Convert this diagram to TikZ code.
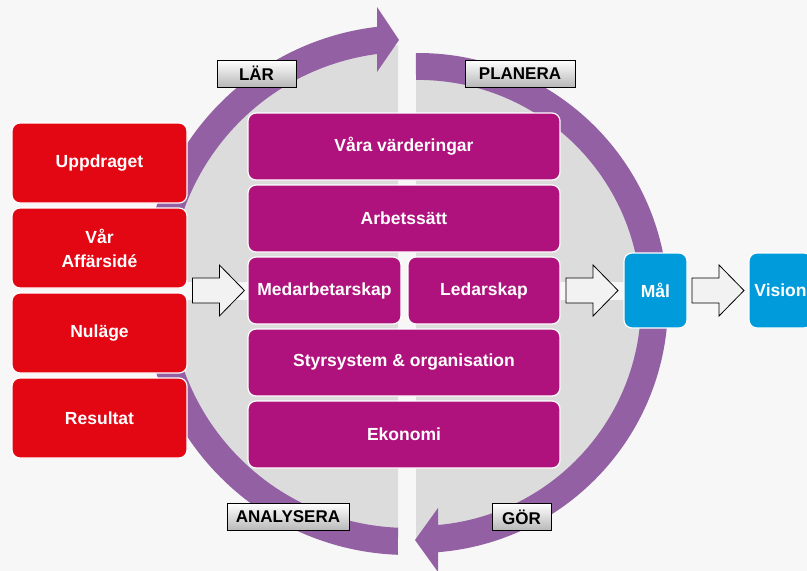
\documentclass[tikz,border=0pt]{standalone}
\usepackage{fontspec}
\setmainfont{Liberation Sans}
\usetikzlibrary{positioning, calc}

\definecolor{bgGray}{RGB}{247,247,247}
\definecolor{discGray}{RGB}{220,220,220}
\definecolor{ringPurple}{RGB}{147,96,164}
\definecolor{boxRed}{RGB}{227,6,19}
\definecolor{boxMagenta}{RGB}{176,18,125}
\definecolor{boxBlue}{RGB}{0,155,218}

\tikzset{
    box/.style={draw=white, line width=1.2pt, rounded corners=8pt, inner sep=0pt,
        text=white, align=center, font=\fontsize{17.5}{24}\selectfont\bfseries},
    redbox/.style={box, fill=boxRed, minimum width=175pt, minimum height=80pt},
    stackbox/.style={box, fill=boxMagenta, minimum height=67pt},
    bluebox/.style={box, fill=boxBlue, minimum width=63pt, minimum height=75pt},
    phase/.style={draw=black, line width=0.8pt, top color=white, bottom color=black!28,
        text=black, inner sep=0pt, minimum height=27pt, font=\fontsize{17}{20}\selectfont\bfseries},
    ring/.style={fill=ringPurple},
    blockarrow/.style={draw=black, line width=0.8pt, fill=white!95!black}
}

% block arrow around a centre point
\newcommand{\bigarrow}[1]{%
    \draw[blockarrow] (#1) ++(-26,-12.5) -- ++(27,0) -- ++(0,-13) -- ++(25,25.5)
        -- ++(-25,25.5) -- ++(0,-13) -- ++(-27,0) -- cycle;
}

\begin{document}
\begin{tikzpicture}[x=1pt, y=-1pt]
    \useasboundingbox (0,0) rectangle (807,571);
    \fill[bgGray] (0,0) rectangle (807,571);

    % disc halves
    \begin{scope}
        \clip (0,0) rectangle (398,571);
        \fill[discGray] (408,290) circle[radius=245];
    \end{scope}
    \begin{scope}
        \clip (416,0) rectangle (807,571);
        \fill[discGray] (418,303) circle[radius=236];
    \end{scope}

    % left arc, up to the top
    \fill[ring] (408,290) ++(92.2:265) arc[start angle=92.2, end angle=263.3, radius=265]
        -- (377,7) -- (399,40) -- (377,72) -- (377,54)
        arc[start angle=262.5, end angle=92.4, radius=238] -- cycle;

    % right arc, down to the bottom
    \fill[ring] (418,303) ++(269.5:250) arc[start angle=269.5, end angle=445.4, radius=250]
        -- (438,572) -- (415,540) -- (438,508) -- (438,525)
        arc[start angle=444.85, end angle=269.5, radius=223] -- cycle;

    % horizontal gap
    \fill[bgGray] (130,282) rectangle (670,300);

    % phases
    \node[phase, minimum width=79pt]  (lar)  at (256.5,73.5) {LÄR};
    \node[phase, minimum width=110pt] (plan) at (520,73.5)   {PLANERA};
    \node[phase, minimum width=122pt] (anal) at (288,517)    {ANALYSERA};
    \node[phase, minimum width=59pt]  (gor)  at (521.5,517)  {GÖR};

    % left column
    \foreach \name/\y/\txt in {upp/163/Uppdraget, aff/248/Vår\\Affärsidé,
                               nul/333/Nuläge, res/418/Resultat}
    {
        \node[redbox] (\name) at (99.5,\y) {\txt};
    }

    % stack
    \foreach \name/\y/\txt in {varden/146.5/Våra värderingar, arbets/218.5/Arbetssätt,
                               styr/362.5/Styrsystem \& organisation, ekon/434.5/Ekonomi}
    {
        \node[stackbox, minimum width=312pt] (\name) at (404,\y) {\txt};
    }
    \node[stackbox, minimum width=153pt] (medarb) at (324.5,290.5) {Medarbetarskap};
    \node[stackbox, minimum width=152pt] (ledar)  at (484,290.5)   {Ledarskap};

    % goals
    \node[bluebox] (mal)    at (655.5,290.5) {Mål};
    \node[bluebox] (vision) at (780.5,290.5) {Vision};

    % arrows between
    \coordinate (pil1) at ($(medarb.west)+(-29,0)$);
    \coordinate (pil2) at ($(ledar.east)!0.5!(mal.west)$);
    \coordinate (pil3) at ($(mal.east)!0.5!(vision.west)$);
    \foreach \p in {pil1, pil2, pil3}
    {
        \bigarrow{\p}
    }
\end{tikzpicture}
\end{document}
